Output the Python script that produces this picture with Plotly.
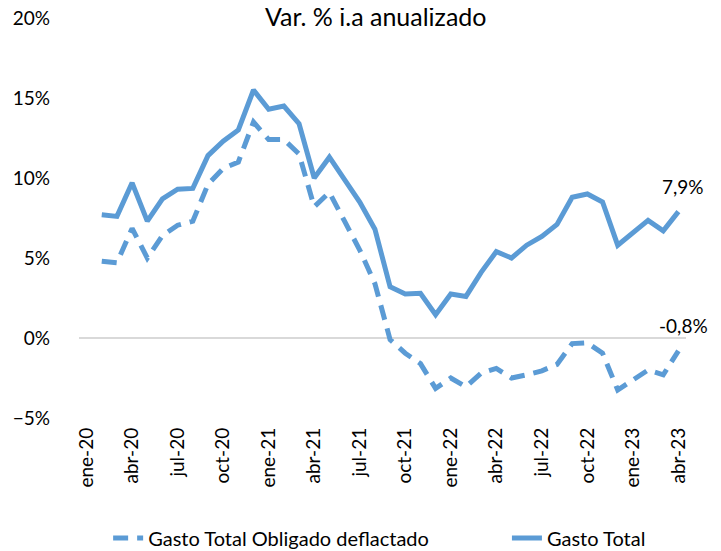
import plotly.graph_objects as go

# meses (eje de categorias)
meses = ["ene-20", "feb-20", "mar-20", "abr-20", "may-20", "jun-20", "jul-20", "ago-20", "sep-20", "oct-20",
         "nov-20", "dic-20", "ene-21", "feb-21", "mar-21", "abr-21", "may-21", "jun-21", "jul-21", "ago-21",
         "sep-21", "oct-21", "nov-21", "dic-21", "ene-22", "feb-22", "mar-22", "abr-22", "may-22", "jun-22",
         "jul-22", "ago-22", "sep-22", "oct-22", "nov-22", "dic-22", "ene-23", "feb-23", "mar-23", "abr-23"]

# series desde feb-20
meses_datos = meses[1:]
gasto_total = [7.7, 7.6, 9.7, 7.3, 8.7, 9.3, 9.35, 11.4, 12.3, 13.0,
               15.5, 14.3, 14.5, 13.4, 10.0, 11.3, 9.9, 8.5, 6.8, 3.2,
               2.75, 2.8, 1.45, 2.75, 2.6, 4.1, 5.4, 5.0, 5.8, 6.35,
               7.1, 8.8, 9.0, 8.5, 5.8, 6.6, 7.35, 6.7, 7.9]
gasto_deflactado = [4.8, 4.7, 6.85, 5.0, 6.4, 7.05, 7.3, 9.6, 10.6, 11.0,
                    13.5, 12.4, 12.4, 11.5, 8.2, 9.1, 7.3, 5.5, 3.4, -0.1,
                    -0.95, -1.6, -3.15, -2.5, -3.05, -2.2, -1.9, -2.5, -2.3, -2.05,
                    -1.65, -0.35, -0.3, -0.95, -3.25, -2.65, -2.0, -2.3, -0.8]

tick_meses = meses[::3]
azul = "#5B9BD5"
fuente = "Lato"

fig = go.Figure()
fig.add_trace(go.Scatter(
    x=meses_datos, y=gasto_deflactado, mode="lines",
    name="Gasto Total Obligado deflactado",
    line=dict(color=azul, width=5, dash="15px,9px"),
    legend="legend", showlegend=True
))
fig.add_trace(go.Scatter(
    x=meses_datos, y=gasto_total, mode="lines",
    name="Gasto Total",
    line=dict(color=azul, width=5),
    legend="legend2", showlegend=True
))

# etiquetas del ultimo dato
for serie in [gasto_total, gasto_deflactado]:
    fig.add_annotation(
        x=meses_datos[-1], y=serie[-1],
        text=f"{serie[-1]:.1f}%".replace(".", ","),
        showarrow=False, xshift=5, yshift=25,
        font=dict(family=fuente, size=19, color="black")
    )

fig.update_layout(
    width=721, height=551,
    showlegend=True,
    margin=dict(t=10, b=141, l=71, r=43, autoexpand=False),
    paper_bgcolor="white",
    plot_bgcolor="white",
    font=dict(family=fuente, size=19, color="black"),
    title=dict(text="Var. % i.a anualizado", x=0.510, xanchor="center", y=1.0, yanchor="top",
               pad=dict(t=0), font=dict(family=fuente, size=25)),
    legend=dict(orientation="h", x=0.048, xanchor="left", y=-0.30, yanchor="middle",
                font=dict(size=20), visible=True),
    legend2=dict(orientation="h", x=0.705, xanchor="left", y=-0.30, yanchor="middle",
                 font=dict(size=20), visible=True),
    xaxis=dict(
        type="category",
        categoryorder="array", categoryarray=meses,
        range=[-0.5, 39.5],
        tickmode="array", tickvals=tick_meses, ticktext=tick_meses,
        tickangle=-90, showgrid=False, showline=False, zeroline=False,
        ticks="", ticklabelstandoff=5
    ),
    yaxis=dict(
        range=[-5, 20], dtick=5, ticksuffix="%",
        showgrid=False, zeroline=True, zerolinecolor="#D9D9D9", zerolinewidth=2,
        showline=False, ticks="", ticklabelstandoff=28, ticklabeloverflow="allow"
    )
)

fig.write_html("out.html")
